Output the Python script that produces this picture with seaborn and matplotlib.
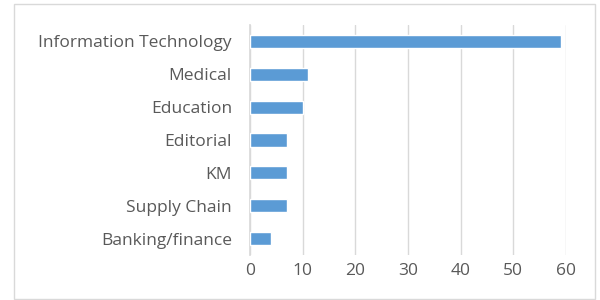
import pandas as pd
import matplotlib
matplotlib.use("Agg")
import matplotlib.pyplot as plt
import seaborn as sns

# data
categories = ["Information Technology", "Medical", "Education", "Editorial",
              "KM", "Supply Chain", "Banking/finance"]
counts = [59, 11, 10, 7, 7, 7, 4]
x_ticks = [0, 10, 20, 30, 40, 50, 60]

df = pd.DataFrame({"category": categories, "count": counts})

sns.set_theme(style="white")
plt.rcParams["font.family"] = ["Open Sans", "DejaVu Sans"]

fig = plt.figure(figsize=(6, 3), dpi=100)
ax = fig.add_axes([250 / 600, 1 - 255 / 300, 316 / 600, 230 / 300])

sns.barplot(data=df, x="count", y="category", color="#5b9bd5",
            saturation=1, width=0.4, ax=ax, zorder=3)

ax.set_xlim(0, 60)
ax.set_ylim(6.5, -0.5)
ax.set_xticks(x_ticks)
ax.set_xticklabels([str(t) for t in x_ticks])
ax.grid(axis="x", color="#d9d9d9", linewidth=1, zorder=0)
ax.set_xlabel("")
ax.set_ylabel("")
ax.tick_params(axis="both", length=0, colors="#595959", labelsize=12.5)
ax.tick_params(axis="x", pad=6)
ax.tick_params(axis="y", pad=13)
for s in ["top", "right", "bottom"]:
    ax.spines[s].set_visible(False)
ax.spines["left"].set_color("#d9d9d9")

# outer chart border
border = plt.Rectangle((14 / 600, 0.005), 581 / 600, 1 - 4 / 300 - 0.005,
                       transform=fig.transFigure, fill=False,
                       edgecolor="#d9d9d9", linewidth=1)
fig.patches.append(border)

fig.savefig("out.png", dpi=100)
